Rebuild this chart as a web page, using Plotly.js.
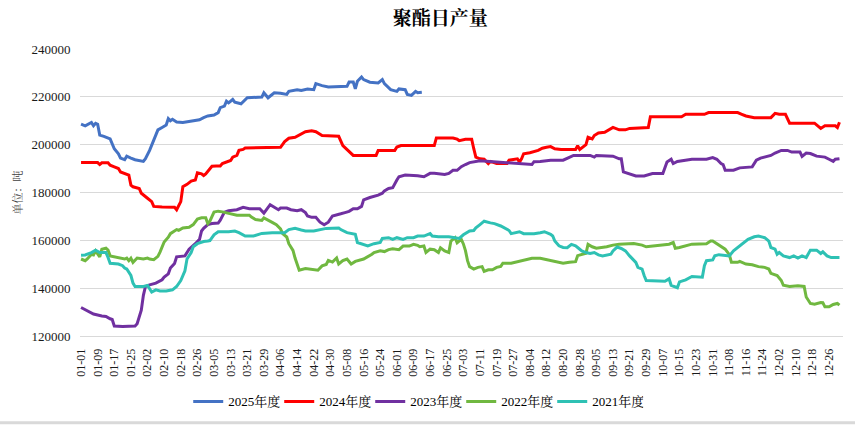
<!DOCTYPE html>
<html>
<head>
<meta charset="utf-8">
<script src="https://cdn.plot.ly/plotly-3.0.1.min.js"></script>
<style>html,body{margin:0;padding:0;background:#fff;}#chart{width:855px;height:428px;}</style>
</head>
<body>
<div id="chart"></div>
<script>
// Category labels: every day of a (leap) year, MM-DD
const monthLengths = [31,29,31,30,31,30,31,31,30,31,30,31];
const dates = [];
monthLengths.forEach((n, m) => {
  for (let d = 1; d <= n; d++) dates.push(String(m + 1).padStart(2, '0') + '-' + String(d).padStart(2, '0'));
});
const tickIdx = [];
for (let i = 0; i <= 360; i += 8) tickIdx.push(i);
const tickLabels = tickIdx.map(i => dates[i]);

const seriesNames = ['2025年度', '2024年度', '2023年度', '2022年度', '2021年度'];
const seriesColors = ['#4472C4', '#FF0000', '#7030A0', '#70B840', '#2EC1B4'];

// Day index (into dates) and value
const day2025 = [0,2,5,6,7,8,9,11,14,15,16,18,19,21,22,24,26,30,31,33,35,37,39,41,42,43,44,46,49,54,57,59,61,64,66,67,69,70,71,73,74,77,79,80,87,88,90,92,93,96,99,100,104,106,109,112,113,116,119,128,129,131,132,133,135,136,139,143,145,146,149,152,153,156,157,159,161,162,164];
const val2025 = [208600,207900,209300,207900,208900,208500,204000,203500,202400,199900,198300,196200,194400,193700,195200,194400,193700,193000,194100,197600,201700,206200,207200,208200,210900,210000,210600,209500,209300,210000,210400,211300,212000,212400,213400,215500,216100,218200,217500,218900,217800,217100,218900,219600,219900,221700,219600,221200,221700,221500,221000,222300,223000,222700,223300,223000,225500,224700,224100,224400,226200,226200,223300,226500,228300,227200,226100,225800,227200,225500,223000,222300,223300,223000,221000,220600,222300,221700,221900];

const day2024 = [0,8,9,10,13,14,16,18,19,21,23,24,25,28,29,32,34,35,39,45,46,48,49,51,53,55,56,58,59,60,61,63,65,67,68,71,72,73,75,76,78,79,96,98,100,103,106,108,111,113,116,124,126,128,131,142,143,151,152,154,170,171,179,181,182,185,188,189,190,192,194,196,197,200,205,206,210,211,212,213,216,220,222,224,226,228,231,238,239,240,243,244,246,247,249,252,254,256,259,262,264,272,273,274,289,291,300,302,316,318,320,324,332,334,336,339,341,353,356,358,363,364,365];
const val2024 = [192500,192500,191700,192400,192400,191400,190700,190000,188600,187900,187300,183100,182400,181700,179700,177600,176200,174200,173900,173800,172800,176200,182400,183400,184800,185200,188200,187800,187100,187800,188900,191000,191100,191100,192100,193000,193400,194800,195500,197600,198000,198600,198900,201300,202700,203100,204500,205400,205800,205400,203800,203500,199600,198000,195500,195500,197600,197600,199000,199600,199600,202800,202800,202300,201700,202300,202300,198300,194800,194100,193900,192100,193000,192100,192100,193500,194100,192700,194100,196200,196600,197600,198500,198900,199200,198300,198000,198000,199600,198000,200000,203100,202400,203800,204900,205200,206200,207200,206200,206200,206800,207200,207200,211700,211700,212700,212700,213400,213400,212700,212000,211300,211300,213100,212700,212700,209000,209000,206800,207900,207900,207200,209400];

const day2023 = [0,2,4,6,10,12,14,15,16,20,26,27,29,30,31,33,36,39,40,42,43,45,46,49,50,52,54,55,57,58,59,61,63,66,67,68,69,71,75,78,81,86,88,91,92,93,95,96,99,101,104,106,108,109,111,113,115,117,119,121,123,125,127,129,131,133,135,136,139,141,143,145,146,148,150,152,153,156,159,162,165,168,170,175,177,179,181,183,185,187,192,197,203,210,215,217,218,221,226,232,235,237,245,247,248,254,256,259,260,261,264,267,271,274,275,280,282,284,285,287,291,294,301,304,306,308,309,310,314,317,323,325,327,329,332,334,337,340,342,346,347,349,351,354,358,360,362,363,365];
const val2023 = [131900,131100,130000,129200,128400,128200,127200,126900,124200,124000,124200,125100,130800,137000,140700,141400,142100,143500,144600,146000,148400,150300,153100,153500,153500,156300,157700,158600,160400,163900,165000,166600,167000,167200,168400,170000,171800,172400,172800,173800,173200,173200,171400,174900,174300,173800,172800,173500,173500,172800,172400,172800,171600,170200,169600,169600,167600,166500,167600,170200,170500,171100,171600,172100,173200,173200,174200,176900,177900,178300,178900,179700,180700,181700,182000,185200,186600,187300,187300,187000,186600,188000,188000,187500,188000,189300,189300,190800,191700,192500,193300,193000,192500,192300,191800,191700,192900,193000,193500,193500,194700,195500,195500,194800,195500,195500,195200,194100,194100,188600,187900,186900,186900,187500,187900,187900,192800,193900,192100,193000,193500,193900,193900,194600,193900,192100,191700,189300,189300,190300,190700,193500,194400,194800,195500,196500,197600,197600,196900,196900,195100,196500,196300,195200,194800,193900,193000,193900,194100];

const day2022 = [0,2,3,5,6,7,9,10,12,13,14,16,18,21,22,23,24,25,27,30,32,33,35,37,38,40,42,43,46,47,49,52,54,56,58,60,61,62,64,66,68,71,73,75,81,82,84,87,88,90,92,94,96,97,99,100,102,103,104,105,108,110,114,116,118,119,121,123,124,126,128,130,132,136,138,140,141,144,146,148,150,153,155,158,160,162,163,165,166,168,170,172,173,175,177,178,180,181,183,184,185,186,187,189,191,193,194,196,198,200,202,203,207,209,212,215,217,221,223,226,229,232,235,238,239,241,243,244,246,248,251,253,256,259,266,270,272,283,285,286,288,291,294,301,303,304,306,308,310,312,313,316,317,320,323,326,329,331,332,335,337,338,341,345,348,349,351,353,356,357,358,360,362,364,365];
const val2022 = [152200,151500,152200,154200,153900,155600,153100,156300,156700,155900,153500,153100,152800,152200,152600,151500,152500,150800,152600,152200,152600,152200,151900,153300,155100,159300,161300,162800,164500,164200,165200,165500,166600,168900,169400,169400,167000,168000,171800,172200,171900,171400,171000,170500,170500,169700,168700,168300,169400,168300,167500,166500,164800,162800,161400,158600,155800,152600,149600,147500,148200,147900,147500,149300,149900,151600,150900,152600,150100,151500,152200,150100,151200,152200,153100,154200,154900,155600,155300,156100,156500,156100,157600,157600,158300,157900,157300,157600,154900,156300,156100,154900,156900,155600,154900,159700,161100,159000,160400,158500,155700,151500,149000,148000,148700,149000,147000,147700,147700,148700,149100,150400,150400,150800,151400,151900,152500,152500,152100,151500,151100,150400,150800,151100,153600,154100,154600,158300,157300,156700,157000,157300,158000,158400,158700,158000,157300,158400,159100,156700,157000,157700,158400,158600,159700,159700,158600,157700,156300,154000,150800,150800,151200,150100,149800,149000,148700,148000,146200,145300,143200,141200,140700,141000,140700,136300,133600,133300,134000,133900,132200,132200,133200,133600,132900];

const day2021 = [0,2,5,7,9,12,13,14,18,20,21,22,24,25,26,30,32,33,34,36,38,41,43,44,46,48,50,51,53,54,56,59,61,62,64,66,71,74,76,79,83,85,87,92,98,100,103,106,108,112,116,118,124,125,128,132,133,136,138,141,144,145,148,150,152,155,157,160,162,165,168,169,172,177,179,182,184,187,189,190,192,194,197,199,202,204,206,207,209,211,213,218,221,223,226,227,228,230,232,234,236,238,239,241,243,245,247,249,251,255,256,258,260,262,264,267,268,270,271,272,281,283,284,287,288,291,294,299,300,301,304,305,307,312,314,317,319,321,324,326,329,331,332,334,335,336,338,341,343,345,347,349,351,354,356,357,359,361,365];
const val2021 = [153800,153900,154900,155900,154900,154900,152800,150400,150100,149400,148400,148000,145300,142100,140700,140700,141100,139700,138400,139300,138800,138800,139100,139300,140700,143200,147300,152200,154900,157300,158600,159500,159700,159900,162300,163600,163600,163900,163200,161800,161800,162500,162900,163200,163200,164500,165000,164300,163900,163900,164500,165000,165200,164500,163200,162500,159100,158400,157700,158600,159100,160800,161100,160400,161100,160400,161100,161100,161800,161800,162800,161800,161500,161500,161100,160800,162300,163900,164100,165200,166600,168000,167300,167000,166000,165200,164100,162800,163200,163600,162800,162800,163200,163600,162500,161800,159700,157700,157000,156900,158300,157700,157000,155600,154900,154500,154900,153900,153500,154200,155600,157200,156600,155600,153500,150800,148700,148000,145300,143200,142900,143900,141200,140200,142600,143500,144900,144600,149400,151500,151800,153500,154000,153500,155600,157700,159100,160400,161500,161800,161100,159700,157000,156300,154200,154900,153500,152800,153500,152600,153500,152800,155900,155900,154500,155200,153500,152800,152800];

const yTicks = [120000,140000,160000,180000,200000,220000,240000];

const serif = '"Liberation Serif", "Times New Roman", "Noto Serif CJK SC", "Noto Sans CJK SC", serif';
const allDays = [day2025, day2024, day2023, day2022, day2021];
const allVals = [val2025, val2024, val2023, val2022, val2021];

const traces = seriesNames.map((name, k) => ({
  type: 'scatter',
  mode: 'lines',
  name: name,
  x: allDays[k],
  y: allVals[k],
  customdata: allDays[k].map(i => dates[i]),
  hovertemplate: '%{customdata}: %{y}<extra>' + name + '</extra>',
  line: {color: seriesColors[k], width: 3}
}));

const layout = {
  width: 855, height: 428,
  margin: {l: 80, r: 12, t: 49, b: 89},
  paper_bgcolor: '#ffffff', plot_bgcolor: '#ffffff',
  font: {family: serif, size: 13, color: '#1a1a1a'},
  title: {
    text: '<b>聚酯日产量</b>',
    font: {family: '"Noto Serif CJK SC", "Noto Sans CJK SC", serif', size: 19, color: '#000'},
    x: 0.515, xanchor: 'center', y: 0.958, yanchor: 'middle', yref: 'container'
  },
  xaxis: {
    type: 'linear',
    range: [-0.5, 366.7],
    tickmode: 'array', tickvals: tickIdx, ticktext: tickLabels,
    tickangle: -90,
    tickfont: {family: serif, size: 12, color: '#1a1a1a'},
    ticklabelstandoff: 7,
    showgrid: false, zeroline: false,
    showline: true, linecolor: '#d9d9d9', linewidth: 1,
    ticks: '', ticklen: 0
  },
  yaxis: {
    range: [120000, 240000],
    tickmode: 'array', tickvals: yTicks, ticktext: yTicks.map(String),
    tickfont: {family: serif, size: 13, color: '#1a1a1a'},
    ticks: 'outside', ticklen: 6, tickcolor: 'rgba(0,0,0,0)',
    showgrid: true, gridcolor: '#d9d9d9', gridwidth: 1,
    zeroline: false, showline: false,
    title: {text: '单位：吨', font: {family: '"Noto Serif CJK SC", "Noto Sans CJK SC", serif', size: 11, color: '#404040'}, standoff: 6}
  },
  legend: {
    orientation: 'h', x: 0.44, xanchor: 'center', y: -0.228, yanchor: 'middle',
    font: {family: serif, size: 13, color: '#000'},
    itemwidth: 30, tracegroupgap: 0, entrywidth: 46, entrywidthmode: 'pixels'
  },
  showlegend: true,
  shapes: [{type: 'line', xref: 'paper', yref: 'paper', x0: -0.2, x1: 1.1, y0: -0.302, y1: -0.302, line: {color: '#d9d9d9', width: 3}}]
};

Plotly.newPlot('chart', traces, layout, {displayModeBar: false, staticPlot: true});
</script>
</body>
</html>
